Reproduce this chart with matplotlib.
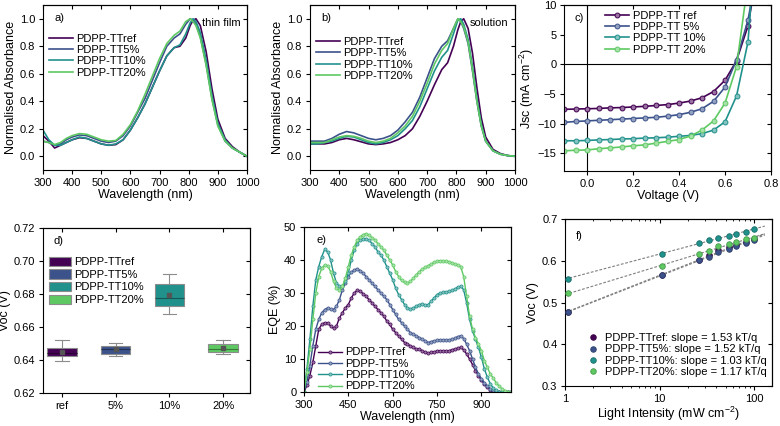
import numpy as np
import matplotlib
matplotlib.use('Agg')
import matplotlib.pyplot as plt
from matplotlib.colors import to_rgb
from matplotlib.patches import Patch
from matplotlib.ticker import NullFormatter

plt.rcParams['font.family'] = ['Liberation Sans', 'DejaVu Sans']
plt.rcParams['mathtext.fontset'] = 'custom'
plt.rcParams['mathtext.rm'] = 'Liberation Sans'
plt.rcParams['mathtext.default'] = 'regular'
plt.rcParams['font.size'] = 8
plt.rcParams['axes.labelsize'] = 9
plt.rcParams['axes.linewidth'] = 0.8
plt.rcParams['xtick.major.size'] = 3
plt.rcParams['ytick.major.size'] = 3
plt.rcParams['xtick.major.width'] = 0.8
plt.rcParams['ytick.major.width'] = 0.8
plt.rcParams['xtick.major.pad'] = 2.5
plt.rcParams['ytick.major.pad'] = 2.5

cols = ['#440154', '#3b528b', '#21918c', '#5ec962']
names = ['PDPP-TTref', 'PDPP-TT5%', 'PDPP-TT10%', 'PDPP-TT20%']
names_c = ['PDPP-TT ref', 'PDPP-TT 5%', 'PDPP-TT 10%', 'PDPP-TT 20%']

# a) thin film absorbance
wl_a = [300, 320, 340, 360, 380, 400, 425, 450, 475, 500, 525, 550, 575, 600, 625, 650, 675,
        700, 725, 750, 770, 790, 805, 815, 825, 840, 860, 880, 900, 925, 950, 975, 1000]
film_ref = [0.15, 0.11, 0.06, 0.08, 0.10, 0.12, 0.135, 0.13, 0.11, 0.09, 0.08, 0.085, 0.12, 0.19, 0.28, 0.38, 0.50,
            0.62, 0.73, 0.79, 0.80, 0.86, 0.95, 0.99, 1.00, 0.95, 0.76, 0.49, 0.27, 0.13, 0.07, 0.03, 0.00]
film_5 = [0.11, 0.10, 0.08, 0.09, 0.12, 0.14, 0.155, 0.15, 0.13, 0.11, 0.10, 0.11, 0.15, 0.22, 0.32, 0.42, 0.55,
          0.68, 0.80, 0.86, 0.89, 0.96, 1.00, 0.99, 0.96, 0.87, 0.67, 0.42, 0.23, 0.11, 0.06, 0.03, 0.00]
film_10 = [0.19, 0.12, 0.08, 0.08, 0.10, 0.12, 0.14, 0.13, 0.11, 0.09, 0.08, 0.09, 0.12, 0.19, 0.28, 0.38, 0.50,
           0.62, 0.73, 0.79, 0.81, 0.89, 0.97, 1.00, 0.98, 0.90, 0.70, 0.44, 0.24, 0.12, 0.06, 0.03, 0.00]
film_20 = [0.11, 0.10, 0.085, 0.10, 0.13, 0.15, 0.165, 0.16, 0.14, 0.12, 0.11, 0.115, 0.16, 0.23, 0.33, 0.45, 0.58,
           0.71, 0.82, 0.88, 0.91, 0.98, 1.00, 0.98, 0.95, 0.86, 0.66, 0.41, 0.22, 0.11, 0.06, 0.03, 0.00]

# b) solution absorbance
wl_b = [300, 325, 350, 375, 400, 425, 450, 475, 500, 525, 550, 575, 600, 625, 650, 675, 700,
        725, 750, 770, 790, 805, 815, 825, 840, 855, 870, 885, 900, 925, 950, 975, 1000]
sol_ref = [0.09, 0.09, 0.09, 0.10, 0.12, 0.13, 0.12, 0.105, 0.09, 0.085, 0.09, 0.10, 0.12, 0.15, 0.20, 0.29, 0.40,
           0.52, 0.63, 0.68, 0.80, 0.92, 0.98, 1.00, 0.93, 0.75, 0.50, 0.28, 0.14, 0.05, 0.02, 0.005, 0.0]
sol_5 = [0.11, 0.11, 0.11, 0.13, 0.16, 0.18, 0.17, 0.15, 0.13, 0.12, 0.13, 0.15, 0.19, 0.25, 0.32, 0.43, 0.57,
         0.71, 0.80, 0.84, 0.93, 1.00, 0.98, 0.93, 0.82, 0.62, 0.40, 0.22, 0.11, 0.04, 0.015, 0.005, 0.0]
sol_10 = [0.09, 0.09, 0.10, 0.11, 0.13, 0.145, 0.14, 0.12, 0.10, 0.09, 0.10, 0.12, 0.15, 0.20, 0.26, 0.36, 0.49,
          0.62, 0.72, 0.77, 0.89, 0.99, 1.00, 0.96, 0.85, 0.65, 0.42, 0.23, 0.11, 0.04, 0.015, 0.005, 0.0]
sol_20 = [0.10, 0.10, 0.10, 0.12, 0.14, 0.15, 0.145, 0.13, 0.11, 0.10, 0.11, 0.13, 0.17, 0.22, 0.29, 0.40, 0.53,
          0.67, 0.77, 0.82, 0.93, 1.00, 0.98, 0.94, 0.83, 0.63, 0.40, 0.22, 0.11, 0.04, 0.015, 0.005, 0.0]

# c) J-V curves
volt = [-0.1, -0.05, 0.0, 0.05, 0.1, 0.15, 0.2, 0.25, 0.3, 0.35, 0.4, 0.45, 0.5, 0.55, 0.6, 0.65, 0.7, 0.75]
jv_ref = [-7.6, -7.55, -7.5, -7.45, -7.35, -7.3, -7.2, -7.1, -6.95, -6.8, -6.55, -6.2, -5.65, -4.6, -2.7, 0.6, 6.5, 18]
jv_5 = [-9.8, -9.65, -9.55, -9.45, -9.35, -9.25, -9.15, -9.05, -8.95, -8.75, -8.5, -8.1, -7.5, -6.25, -3.85, 0.75, 7.5, 18]
jv_10 = [-12.9, -12.9, -12.85, -12.75, -12.7, -12.6, -12.55, -12.45, -12.4, -12.3, -12.15, -12.0, -11.7, -11.1, -9.7, -5.35, 3.8, 30]
jv_20 = [-14.6, -14.5, -14.45, -14.25, -14.1, -13.95, -13.75, -13.6, -13.3, -13.0, -12.7, -12.1, -11.1, -9.55, -6.55, -0.4, 14, 30]

# d) Voc statistics
groups = ['ref', '5%', '10%', '20%']
voc_q1 = [0.6422, 0.6438, 0.6725, 0.6449]
voc_q3 = [0.6471, 0.6485, 0.6861, 0.6499]
voc_med = [0.6445, 0.6465, 0.6776, 0.6467]
voc_mean = [0.6447, 0.6467, 0.6792, 0.6475]
voc_lo = [0.6393, 0.6422, 0.6681, 0.6434]
voc_hi = [0.6519, 0.6505, 0.6923, 0.6521]

# e) EQE
wl_e = list(range(300, 1001, 10))
eqe_ref = [0, 2, 5, 9, 14, 19, 20.5, 21, 21, 20, 19.3, 20, 22.5, 24, 25.5, 26.5, 28.5, 30, 30.8, 30.5,
           29.8, 29, 28, 27, 26, 25, 24, 23, 21.5, 20.5, 19, 18, 17, 16, 15, 14.5, 14, 13.5, 13, 13,
           12.5, 12, 11.8, 12, 12.2, 12.4, 12.5, 12.5, 12.4, 12.5, 12.8, 13, 13.3, 13.5, 12.8, 11.5, 10, 8.3, 6.5, 5,
           3.6, 2.4, 1.4, 0.7, 0.3, 0, 0, 0, 0, 0, 0]
eqe_5 = [0, 3, 8, 14, 19, 22, 24, 25, 25.5, 25.2, 25, 26, 28, 31, 33, 35, 36.3, 37, 37.3, 36.8,
         36, 35, 34, 33, 32, 31, 30, 29, 28, 26.5, 25, 23.5, 22, 21, 20, 19, 18, 17.5, 17, 16.5,
         16, 15.5, 15, 15.3, 15.5, 15.7, 15.8, 15.8, 15.7, 15.8, 16, 16.3, 16.8, 17, 16.2, 14.5, 12.5, 10, 7.5, 5.5,
         4, 2.8, 1.8, 1, 0.5, 0.2, 0, 0, 0, 0, 0]
eqe_10 = [0, 7, 16, 26, 34, 38, 41, 43.2, 42.5, 40, 36, 33, 32, 32, 33.5, 36, 40, 43, 45, 46,
          46.5, 46.5, 46, 45, 44, 42.5, 41.5, 40, 38, 36, 34, 31.5, 29.5, 28, 26.5, 25.5, 25.2, 25.5, 26, 26.5,
          26.7, 26.4, 26.5, 27.5, 28.5, 29.5, 30, 30.2, 30.3, 30.5, 30.8, 31.2, 31.8, 32, 31, 27, 22, 18.5, 16, 13.5,
          10.5, 7, 4.5, 2.5, 1.2, 0.5, 0, 0, 0, 0, 0]
eqe_20 = [0, 6, 13, 22, 30, 35, 37.5, 38.5, 38.3, 36.5, 33.5, 31.5, 31, 32, 34.5, 38, 41.5, 44, 46, 47,
          47.7, 48, 47.5, 46.8, 46, 45, 44, 43, 41.5, 40, 38.5, 36.5, 35, 33.8, 33.2, 33, 33.5, 34.5, 35.5, 36.5,
          37.2, 37.8, 38.3, 38.8, 39.3, 39.6, 39.8, 39.8, 39.7, 39.5, 39.2, 38.8, 38.5, 38, 35, 29, 23, 19, 16.5, 14.5,
          12.5, 9.5, 7.5, 5.5, 4.2, 2.8, 1.8, 0.9, 0.4, 0.1, 0]

# f) Voc vs light intensity
light = [1.08, 10.6, 26, 33, 42, 54, 65, 82, 100]
vl_ref = [0.478, 0.566, 0.603, 0.613, 0.625, 0.632, 0.637, 0.644, 0.651]
vl_5 = [0.477, 0.565, 0.601, 0.610, 0.620, 0.629, 0.635, 0.643, 0.649]
vl_10 = [0.557, 0.617, 0.643, 0.649, 0.655, 0.659, 0.664, 0.670, 0.675]
vl_20 = [0.522, 0.587, 0.616, 0.623, 0.635, 0.639, 0.644, 0.651, 0.655]
slopes = ['1.53', '1.52', '1.03', '1.17']


def light_col(c, f=0.45):
    r = np.array(to_rgb(c))
    return tuple(r + (1 - r) * f)


def mirror(ax, xt, yt, logx=False):
    sx = ax.secondary_xaxis('top')
    sx.set_xticks(xt)
    sx.tick_params(axis='x', direction='in', length=3, labeltop=False, labelbottom=False)
    if logx:
        sx.xaxis.set_minor_formatter(NullFormatter())
        sx.tick_params(axis='x', which='minor', direction='in', length=1.5)
    sy = ax.secondary_yaxis('right')
    sy.set_yticks(yt)
    sy.tick_params(axis='y', direction='in', length=3, labelright=False, labelleft=False)


leg_kw = dict(frameon=False, handlelength=2.2, handletextpad=0.3, labelspacing=0.12,
              borderaxespad=0.2, borderpad=0.3)

fig = plt.figure(figsize=(7.8, 4.26), dpi=100)

# ---- a ----
ax = fig.add_axes([0.0551, 0.6009, 0.2615, 0.3873])
for y, c, n in zip([film_ref, film_5, film_10, film_20], cols, names):
    ax.plot(wl_a, y, color=c, lw=1.2, label=n)
ax.set_xlim(300, 1000)
ax.set_ylim(-0.1, 1.1)
ax.set_xticks(range(300, 1001, 100))
ax.set_yticks(np.arange(0, 1.01, 0.2))
ax.set_xlabel('Wavelength (nm)', labelpad=1)
ax.set_ylabel('Normalised Absorbance', labelpad=2)
ax.text(0.055, 0.92, 'a)', transform=ax.transAxes, va='center')
ax.text(0.97, 0.89, 'thin film', transform=ax.transAxes, ha='right', va='center')
ax.legend(loc='upper left', bbox_to_anchor=(0.0, 0.86), **leg_kw)
mirror(ax, range(300, 1001, 100), np.arange(0, 1.01, 0.2))

# ---- b ----
ax = fig.add_axes([0.3974, 0.6009, 0.2628, 0.3873])
for y, c, n in zip([sol_ref, sol_5, sol_10, sol_20], cols, names):
    ax.plot(wl_b, y, color=c, lw=1.2, label=n)
ax.set_xlim(300, 1000)
ax.set_ylim(-0.1, 1.1)
ax.set_xticks(range(300, 1001, 100))
ax.set_yticks(np.arange(0, 1.01, 0.2))
ax.set_xlabel('Wavelength (nm)', labelpad=1)
ax.set_ylabel('Normalised Absorbance', labelpad=2)
ax.text(0.055, 0.92, 'b)', transform=ax.transAxes, va='center')
ax.text(0.97, 0.89, 'solution', transform=ax.transAxes, ha='right', va='center')
ax.legend(loc='upper left', bbox_to_anchor=(0.0, 0.84), **leg_kw)
mirror(ax, range(300, 1001, 100), np.arange(0, 1.01, 0.2))

# ---- c ----
ax = fig.add_axes([0.7231, 0.5986, 0.2654, 0.3897])
ax.axhline(0, color='black', lw=0.8)
ax.axvline(0, color='black', lw=0.8)
for y, c, n in zip([jv_ref, jv_5, jv_10, jv_20], cols, names_c):
    ax.plot(volt, y, color=c, lw=1.2, marker='o', ms=3.5, mfc=light_col(c), mec=c, mew=0.7, label=n)
ax.set_xlim(-0.1, 0.8)
ax.set_ylim(-18, 10)
ax.set_xticks([0.0, 0.2, 0.4, 0.6, 0.8])
ax.set_yticks([-15, -10, -5, 0, 5, 10])
ax.set_xlabel('Voltage (V)', labelpad=1)
ax.set_ylabel('Jsc (mA cm$^{-2}$)', labelpad=1)
ax.text(0.05, 0.92, 'c)', transform=ax.transAxes, va='center')
ax.legend(loc='upper left', bbox_to_anchor=(0.17, 1.0), **leg_kw)
mirror(ax, [0.0, 0.2, 0.4, 0.6, 0.8], [-15, -10, -5, 0, 5, 10])

# ---- d ----
ax = fig.add_axes([0.0551, 0.0775, 0.2654, 0.3873])
stats = []
for i in range(4):
    stats.append(dict(med=voc_med[i], q1=voc_q1[i], q3=voc_q3[i], whislo=voc_lo[i],
                      whishi=voc_hi[i], mean=voc_mean[i], fliers=[]))
pos = [1, 2, 3, 4]
bp = ax.bxp(stats, positions=pos, widths=0.55, showmeans=True, patch_artist=True,
            boxprops=dict(edgecolor='#8c8c8c', lw=0.8),
            whiskerprops=dict(color='#8c8c8c', lw=0.8),
            capprops=dict(color='#8c8c8c', lw=0.8),
            capwidths=0.25,
            medianprops=dict(color='#333333', lw=0.8),
            meanprops=dict(marker='s', ms=2.2, mfc='#555555', mec='#555555'))
for patch, c in zip(bp['boxes'], cols):
    patch.set_facecolor(c)
for med, c in zip(bp['medians'], cols):
    med.set_color(tuple(np.array(to_rgb(c)) * 0.6))
ax.set_xlim(0.65, 4.5)
ax.set_ylim(0.62, 0.72)
ax.set_xticks(pos)
ax.set_xticklabels(groups)
ax.set_yticks(np.arange(0.62, 0.7201, 0.02))
ax.set_yticklabels(['%.2f' % v for v in np.arange(0.62, 0.7201, 0.02)])
ax.set_ylabel('Voc (V)', labelpad=2)
ax.text(0.05, 0.92, 'd)', transform=ax.transAxes, va='center')
handles = [Patch(facecolor=c, edgecolor='#8c8c8c', lw=0.8) for c in cols]
ax.legend(handles, names, loc='upper left', bbox_to_anchor=(0.0, 0.86), frameon=False,
          handlelength=2.0, handleheight=0.9, handletextpad=0.3, labelspacing=0.2,
          borderaxespad=0.2, borderpad=0.3)
mirror(ax, pos, np.arange(0.62, 0.7201, 0.02))

# ---- e ----
ax = fig.add_axes([0.3897, 0.0798, 0.2654, 0.3873])
for y, c, n in zip([eqe_ref, eqe_5, eqe_10, eqe_20], cols, names):
    ax.plot(wl_e, y, color=c, lw=1.0, marker='o', ms=2.3, mfc=light_col(c), mec=c, mew=0.5, label=n)
ax.set_xlim(300, 1000)
ax.set_ylim(0, 50)
ax.set_xticks(range(300, 901, 150))
ax.set_yticks(range(0, 51, 10))
ax.set_xlabel('Wavelength (nm)', labelpad=1)
ax.set_ylabel('EQE (%)', labelpad=2)
ax.text(0.06, 0.92, 'e)', transform=ax.transAxes, va='center')
ax.legend(loc='lower left', bbox_to_anchor=(0.04, -0.03), **leg_kw)
mirror(ax, range(300, 901, 150), range(0, 51, 10))

# ---- f ----
ax = fig.add_axes([0.7244, 0.0939, 0.2654, 0.392])
xfit = np.array([1.0, 130.0])
for y, c, s, n in zip([vl_ref, vl_5, vl_10, vl_20], cols, slopes, names):
    p = np.polyfit(np.log10(light), y, 1)
    ax.plot(xfit, np.polyval(p, np.log10(xfit)), color='#7f7f7f', lw=0.8, ls=(0, (2.5, 1.5)), zorder=1)
for y, c, s, n in zip([vl_ref, vl_5, vl_10, vl_20], cols, slopes, names):
    ax.plot(light, y, ls='none', marker='o', ms=4, mfc=c, mec=tuple(np.array(to_rgb(c)) * 0.75),
            mew=0.6, label='%s: slope = %s kT/q' % (n, s), zorder=3)
ax.set_xscale('log')
ax.set_xlim(1, 155)
ax.set_ylim(0.3, 0.7)
ax.set_xticks([1, 10, 100])
ax.set_xticklabels(['1', '10', '100'])
ax.xaxis.set_minor_formatter(NullFormatter())
ax.tick_params(axis='x', which='minor', length=1.5)
ax.set_yticks([0.3, 0.4, 0.5, 0.6, 0.7])
ax.set_xlabel('Light Intensity (mW cm$^{-2}$)', labelpad=1)
ax.set_ylabel('Voc (V)', labelpad=2)
ax.text(0.05, 0.9, 'f)', transform=ax.transAxes, va='center')
ax.legend(loc='lower right', bbox_to_anchor=(1.0, 0.02), frameon=False, fontsize=8,
          handlelength=1.0, handletextpad=0.6, labelspacing=0.12, borderaxespad=0.2, borderpad=0.3)
mirror(ax, [1, 10, 100], [0.3, 0.4, 0.5, 0.6, 0.7], logx=True)

fig.savefig('out.png', dpi=100)
